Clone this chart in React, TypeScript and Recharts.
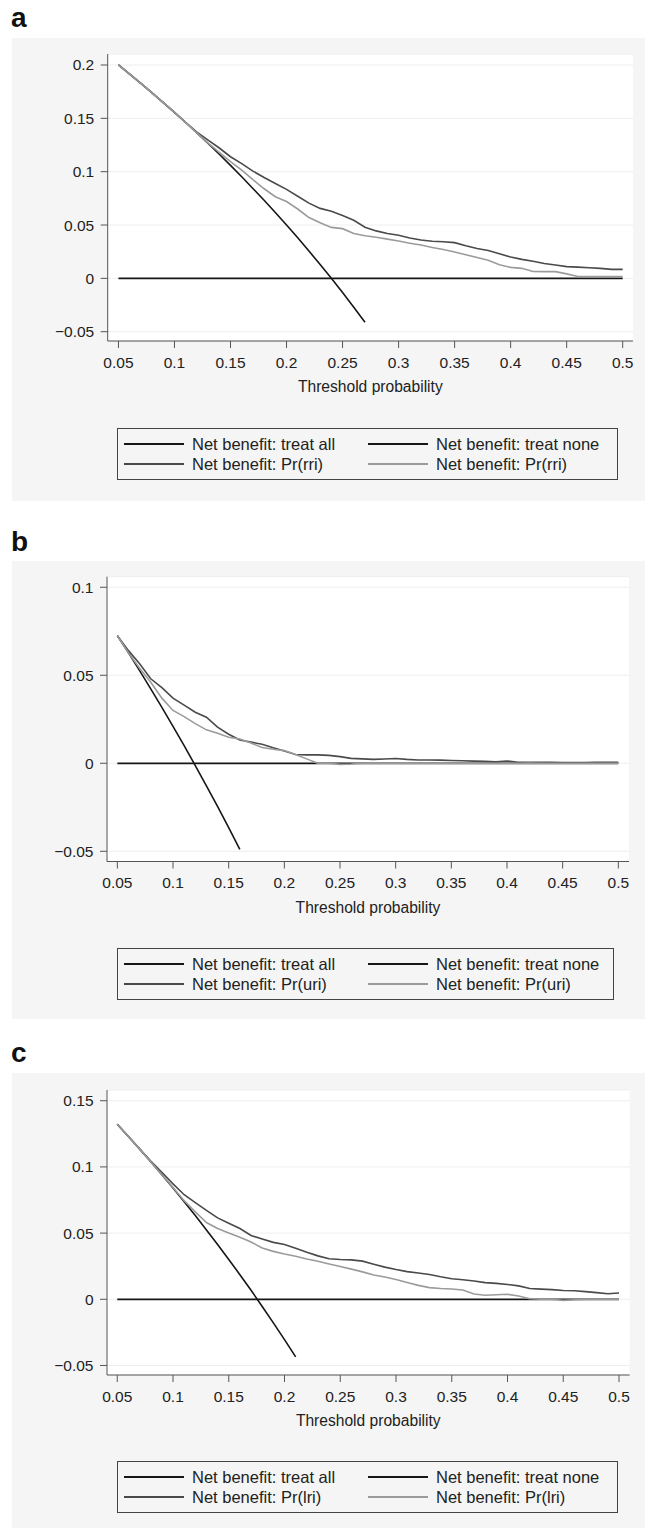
import { CartesianGrid, Legend, Line, LineChart, XAxis, YAxis } from 'recharts';

// threshold probabilities (x), one point per 0.01
const thresholds = [
  0.05, 0.06, 0.07, 0.08, 0.09, 0.1, 0.11, 0.12, 0.13, 0.14, 0.15, 0.16, 0.17, 0.18, 0.19, 0.2,
  0.21, 0.22, 0.23, 0.24, 0.25, 0.26, 0.27, 0.28, 0.29, 0.3, 0.31, 0.32, 0.33, 0.34, 0.35, 0.36,
  0.37, 0.38, 0.39, 0.4, 0.41, 0.42, 0.43, 0.44, 0.45, 0.46, 0.47, 0.48, 0.49, 0.5,
];

const treatNone = [
  0, 0, 0, 0, 0, 0, 0, 0, 0, 0, 0, 0, 0, 0, 0, 0, 0, 0, 0, 0, 0, 0, 0,
  0, 0, 0, 0, 0, 0, 0, 0, 0, 0, 0, 0, 0, 0, 0, 0, 0, 0, 0, 0, 0, 0, 0,
];

// panel a
const treatAllA = [
  0.2, 0.1915, 0.1828, 0.1739, 0.1648, 0.1556, 0.1461, 0.1364, 0.1264, 0.1163, 0.1059, 0.0952,
  0.0843, 0.0732, 0.0617, 0.05, 0.038, 0.0256, 0.013, 0, -0.0133, -0.027, -0.0411,
];
const modelA1 = [
  0.2, 0.1915, 0.1828, 0.1739, 0.1648, 0.1556, 0.1461, 0.137, 0.1295, 0.1222, 0.114, 0.1075,
  0.1005, 0.0945, 0.089, 0.0834, 0.077, 0.0705, 0.0656, 0.063, 0.059, 0.0545, 0.048, 0.0445,
  0.042, 0.0405, 0.0378, 0.036, 0.0348, 0.0343, 0.0335, 0.0305, 0.028, 0.0262, 0.023, 0.02,
  0.0178, 0.016, 0.014, 0.0125, 0.011, 0.0105, 0.01, 0.0094, 0.0084, 0.0084,
];
const modelA2 = [
  0.2, 0.1915, 0.1828, 0.1739, 0.1648, 0.1556, 0.1461, 0.1364, 0.1268, 0.118, 0.1094, 0.1015,
  0.0925, 0.084, 0.0765, 0.072, 0.065, 0.057, 0.0522, 0.0478, 0.0466, 0.042, 0.04, 0.0385,
  0.0368, 0.035, 0.033, 0.0312, 0.029, 0.027, 0.0248, 0.0222, 0.0195, 0.017, 0.0128, 0.0103,
  0.0094, 0.0065, 0.0063, 0.0063, 0.0042, 0.0018, 0.0016, 0.0016, 0.0018, 0.0016,
];

// panel b
const treatAllB = [
  0.0725, 0.0627, 0.0526, 0.0423, 0.0318, 0.021, 0.01, -0.0013, -0.0128, -0.0245, -0.0366, -0.0489,
];
const modelB1 = [
  0.0725, 0.064, 0.0565, 0.048, 0.043, 0.037, 0.033, 0.029, 0.0262, 0.0205, 0.0165, 0.0132,
  0.012, 0.0108, 0.0088, 0.007, 0.005, 0.0048, 0.0048, 0.0045, 0.0038, 0.0028, 0.0025, 0.0022,
  0.0024, 0.0027, 0.0022, 0.0019, 0.0019, 0.0018, 0.0016, 0.0014, 0.0012, 0.0011, 0.0008, 0.0013,
  0.0006, 0.0006, 0.0005, 0.0005, 0.0004, 0.0004, 0.0004, 0.0005, 0.0005, 0.0006,
];
const modelB2 = [
  0.0725, 0.0627, 0.054, 0.046, 0.037, 0.03, 0.0265, 0.0225, 0.019, 0.017, 0.0148, 0.0138,
  0.0115, 0.009, 0.008, 0.0072, 0.005, 0.0025, 0, 0, -0.0006, -0.0004, 0, 0.0001,
  0, 0, 0.0001, 0, 0, 0.0001, 0, 0, 0.0001, 0, 0, 0,
  0, 0.0001, 0, 0, 0, 0, 0, 0, 0, 0,
];

// panel c
const treatAllC = [
  0.1322, 0.123, 0.1136, 0.1039, 0.0941, 0.084, 0.0737, 0.0632, 0.0524, 0.0414, 0.0301, 0.0186,
  0.0068, -0.0054, -0.0178, -0.0305, -0.0435,
];
const modelC1 = [
  0.1322, 0.123, 0.1136, 0.1045, 0.096, 0.0872, 0.079, 0.073, 0.0672, 0.0615, 0.0575, 0.0535,
  0.0482, 0.0455, 0.043, 0.0414, 0.0385, 0.0355, 0.0328, 0.0306, 0.03, 0.0298, 0.0288, 0.0265,
  0.0243, 0.0225, 0.0209, 0.0198, 0.0187, 0.017, 0.0155, 0.0148, 0.0138, 0.0126, 0.012, 0.0112,
  0.0101, 0.0082, 0.0077, 0.0073, 0.0066, 0.0065, 0.0058, 0.005, 0.0042, 0.0048,
];
const modelC2 = [
  0.1322, 0.123, 0.1136, 0.1039, 0.0941, 0.0845, 0.0745, 0.066, 0.058, 0.0535, 0.05, 0.0468,
  0.0432, 0.0388, 0.0362, 0.0342, 0.0325, 0.0305, 0.0287, 0.0267, 0.0248, 0.0228, 0.0207, 0.0184,
  0.0168, 0.015, 0.0127, 0.0105, 0.0088, 0.0081, 0.0078, 0.007, 0.004, 0.003, 0.0034, 0.0038,
  0.0025, 0.0004, 0, 0, -0.0008, -0.0004, 0, 0, 0, 0,
];

const xTicks = [0.05, 0.1, 0.15, 0.2, 0.25, 0.3, 0.35, 0.4, 0.45, 0.5];
const yTicksA = [-0.05, 0, 0.05, 0.1, 0.15, 0.2];
const yTicksB = [-0.05, 0, 0.05, 0.1];
const yTicksC = [-0.05, 0, 0.05, 0.1, 0.15];

const FONT = "'Liberation Sans', Arial, Helvetica, sans-serif";
const GREY_BG = '#f5f5f5';
const order = ['all', 'none', 'm1', 'm2'];

const fmt = (v: number) => String(Math.round(v * 100) / 100).replace('-', '\u2212');

const makeLegend = (width: number) => (props: any) => {
  const items = [...(props.payload || [])].sort(
    (a: any, b: any) => order.indexOf(a.dataKey) - order.indexOf(b.dataKey),
  );
  return (
    <div
      style={{
        width,
        height: 52,
        boxSizing: 'border-box',
        border: '1px solid #444',
        background: GREY_BG,
        padding: '5px 0 0 0',
        display: 'grid',
        gridTemplateColumns: '244px 1fr',
        gridAutoRows: '20px',
        fontFamily: FONT,
        fontSize: 16.5,
        color: '#222',
      }}
    >
      {items.map((it: any, i: number) => (
        <div key={i} style={{ display: 'flex', alignItems: 'center', paddingLeft: 6, whiteSpace: 'nowrap' }}>
          <span style={{ display: 'inline-block', width: 60, height: 0, borderTop: `2px solid ${it.color}`, marginRight: 8 }} />
          <span>{it.value}</span>
        </div>
      ))}
    </div>
  );
};

type PanelProps = {
  letter: string;
  letterTop: number;
  top: number;
  bottom: number;
  plotTop: number;
  plotBottom: number;
  plotLeft: number;
  plotRight: number;
  xDomain: [number, number];
  yDomain: [number, number];
  yTicks: number[];
  treatAll: number[];
  model1: number[];
  model2: number[];
  modelName: string;
  legendTop: number;
  legendWidth: number;
};

const LEFT = 12;
const CHART_W = 645 - LEFT;
const X_AXIS_H = 30;

const Panel = (p: PanelProps) => {
  const height = p.bottom - p.top;
  const rows = thresholds.map((t, i) => ({
    t,
    all: p.treatAll[i],
    none: treatNone[i],
    m1: p.model1[i],
    m2: p.model2[i],
  }));
  return (
    <>
      <div
        style={{
          position: 'absolute',
          left: 11,
          top: p.letterTop,
          fontFamily: "'Liberation Sans Narrow', 'Liberation Sans', Arial, sans-serif",
          fontWeight: 'bold',
          fontSize: 28,
          lineHeight: '28px',
          color: '#111',
        }}
      >
        {p.letter}
      </div>
      <div style={{ position: 'absolute', left: LEFT, top: p.top, width: CHART_W, height, background: GREY_BG }}>
        <LineChart
          width={CHART_W}
          height={height}
          data={rows}
          margin={{
            top: p.plotTop - p.top,
            right: 645 - p.plotRight,
            left: 0,
            bottom: p.bottom - p.plotBottom - X_AXIS_H,
          }}
        >
          <CartesianGrid vertical={false} fill="#ffffff" stroke="#eeeeee" />
          <XAxis
            type="number"
            dataKey="t"
            domain={p.xDomain}
            ticks={xTicks}
            interval={0}
            allowDataOverflow
            height={X_AXIS_H}
            tickSize={7}
            tickMargin={8.5}
            tickFormatter={fmt}
            axisLine={{ stroke: '#555' }}
            tickLine={{ stroke: '#555' }}
            tick={{ fill: '#222', fontSize: 15.5, fontFamily: FONT }}
            label={{
              value: 'Threshold probability',
              position: 'bottom',
              offset: 10,
              fill: '#222',
              fontSize: 15.6,
              fontFamily: FONT,
            }}
          />
          <YAxis
            type="number"
            domain={p.yDomain}
            ticks={p.yTicks}
            interval={0}
            allowDataOverflow
            width={p.plotLeft - LEFT}
            tickSize={7}
            tickMargin={6.5}
            tickFormatter={fmt}
            axisLine={{ stroke: '#555' }}
            tickLine={{ stroke: '#555' }}
            tick={{ fill: '#222', fontSize: 15.5, fontFamily: FONT }}
          />
          <Legend
            verticalAlign="middle"
            align="center"
            content={makeLegend(p.legendWidth)}
            wrapperStyle={{ top: p.legendTop - p.top, left: 105, width: p.legendWidth, height: 52 }}
          />
          <Line type="linear" dataKey="all" name="Net benefit: treat all" stroke="#161616" strokeWidth={1.6} dot={false} isAnimationActive={false} />
          <Line type="linear" dataKey="none" name="Net benefit: treat none" stroke="#161616" strokeWidth={1.8} dot={false} isAnimationActive={false} />
          <Line type="linear" dataKey="m1" name={p.modelName} stroke="#4a4a4a" strokeWidth={1.6} dot={false} isAnimationActive={false} />
          <Line type="linear" dataKey="m2" name={p.modelName} stroke="#9b9b9b" strokeWidth={1.6} dot={false} isAnimationActive={false} />
        </LineChart>
      </div>
    </>
  );
};

const App = () => {
  return (
    <div style={{ position: 'absolute', left: 0, top: 0, width: 645, height: 1528, background: '#fff', fontFamily: FONT }}>
      <Panel
        letter="a"
        letterTop={4}
        top={38}
        bottom={501}
        plotTop={54}
        plotBottom={341}
        plotLeft={107.7}
        plotRight={633}
        xDomain={[0.0404, 0.5092]}
        yDomain={[-0.0587, 0.2103]}
        yTicks={yTicksA}
        treatAll={treatAllA}
        model1={modelA1}
        model2={modelA2}
        modelName="Net benefit: Pr(rri)"
        legendTop={428}
        legendWidth={501}
      />
      <Panel
        letter="b"
        letterTop={528}
        top={561}
        bottom={1019}
        plotTop={576.7}
        plotBottom={861.5}
        plotLeft={107}
        plotRight={629}
        xDomain={[0.0407, 0.5096]}
        yDomain={[-0.0558, 0.106]}
        yTicks={yTicksB}
        treatAll={treatAllB}
        model1={modelB1}
        model2={modelB2}
        modelName="Net benefit: Pr(uri)"
        legendTop={948}
        legendWidth={497}
      />
      <Panel
        letter="c"
        letterTop={1039}
        top={1073}
        bottom={1528}
        plotTop={1090}
        plotBottom={1375}
        plotLeft={107}
        plotRight={629.6}
        xDomain={[0.0408, 0.5095]}
        yDomain={[-0.0572, 0.1581]}
        yTicks={yTicksC}
        treatAll={treatAllC}
        model1={modelC1}
        model2={modelC2}
        modelName="Net benefit: Pr(lri)"
        legendTop={1461}
        legendWidth={501}
      />
    </div>
  );
};

export default App;
